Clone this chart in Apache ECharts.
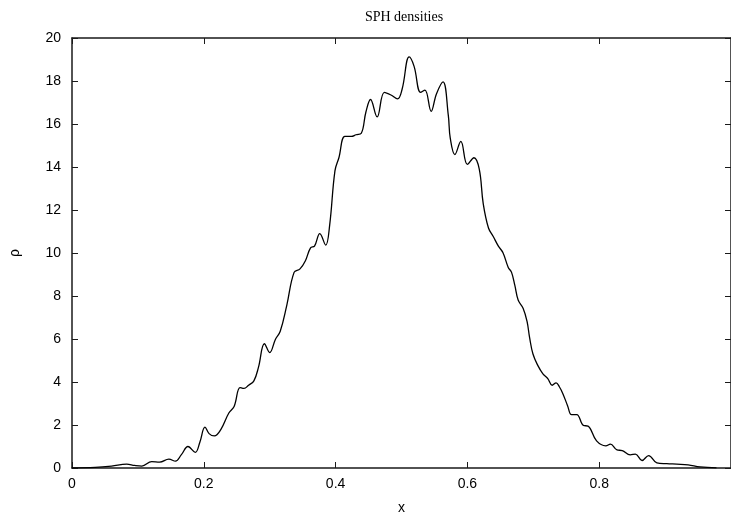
<!DOCTYPE html>
<html>
<head>
<meta charset="utf-8">
<script src="https://cdn.jsdelivr.net/npm/echarts@6/dist/echarts.min.js"></script>
<style>
html,body{margin:0;padding:0;background:#fff;}
#chart{width:731px;height:520px;}
</style>
</head>
<body>
<div id="chart"></div>
<script>
const titleText = 'SPH densities';
const xName = 'x';
const yName = 'ρ';
const xTickValues = [0, 0.2, 0.4, 0.6, 0.8];
const xTickLabels = ['0', '0.2', '0.4', '0.6', '0.8'];
const yTickValues = [0, 2, 4, 6, 8, 10, 12, 14, 16, 18, 20];

const xValues = [
  0, 0.035, 0.06, 0.083, 0.095, 0.106, 0.121, 0.133, 0.147, 0.157,
  0.166, 0.176, 0.187, 0.194, 0.2018, 0.208, 0.216, 0.226, 0.238, 0.246,
  0.255, 0.261, 0.268, 0.276, 0.283, 0.292, 0.300, 0.3086, 0.316, 0.326,
  0.337, 0.346, 0.354, 0.362, 0.368, 0.376, 0.385, 0.391, 0.399, 0.405,
  0.414, 0.424, 0.431, 0.439, 0.446, 0.453, 0.463, 0.474, 0.484, 0.494,
  0.501, 0.5116, 0.519, 0.529, 0.5356, 0.545, 0.553, 0.563, 0.571, 0.574,
  0.581, 0.590, 0.600, 0.610, 0.618, 0.624, 0.632, 0.639, 0.647, 0.654,
  0.662, 0.667, 0.672, 0.677, 0.6845, 0.6905, 0.6944, 0.6995, 0.707, 0.7146,
  0.722, 0.7286, 0.7346, 0.7395, 0.7447, 0.752, 0.758, 0.766, 0.776, 0.783,
  0.796, 0.810, 0.817, 0.827, 0.835, 0.847, 0.855, 0.865, 0.875, 0.8875,
  0.9025, 0.9176, 0.935, 0.953, 0.978
];
const rhoValues = [
  0.01, 0.03, 0.09, 0.18, 0.12, 0.09, 0.30, 0.27, 0.41, 0.32,
  0.62, 1.00, 0.73, 1.20, 1.90, 1.60, 1.49, 1.80, 2.56, 2.86,
  3.74, 3.70, 3.85, 4.05, 4.69, 5.78, 5.37, 5.98, 6.36, 7.58,
  9.10, 9.26, 9.63, 10.24, 10.32, 10.90, 10.37, 11.30, 13.82, 14.43,
  15.42, 15.42, 15.50, 15.57, 16.56, 17.14, 16.33, 17.47, 17.35, 17.17,
  17.63, 19.12, 18.69, 17.47, 17.58, 16.59, 17.40, 17.96, 16.41, 15.34,
  14.58, 15.19, 14.12, 14.43, 13.90, 12.30, 11.16, 10.78, 10.32, 10.01,
  9.33, 9.10, 8.49, 7.81, 7.43, 6.82, 6.06, 5.30, 4.76, 4.38,
  4.16, 3.85, 3.96, 3.78, 3.47, 2.90, 2.48, 2.48, 1.98, 1.95,
  1.26, 1.03, 1.11, 0.84, 0.81, 0.61, 0.65, 0.35, 0.58, 0.24,
  0.20, 0.18, 0.15, 0.05, 0.01
];

const seriesData = xValues.map((x, i) => [x, rhoValues[i]]);
const frameColor = '#1a1a1a';
const labelFont = {fontFamily: 'Liberation Sans, Arial, sans-serif', fontSize: 14, color: '#000'};

const chart = echarts.init(document.getElementById('chart'), null, {renderer: 'canvas'});
chart.setOption({
  animation: false,
  backgroundColor: '#fff',
  title: {
    text: titleText,
    left: 399, top: 5, textAlign: 'center',
    textStyle: {fontFamily: 'Liberation Serif, Times New Roman, serif', fontSize: 14, fontWeight: 'normal', color: '#000'}
  },
  grid: {left: 67, right: -1, top: 38, bottom: 44, containLabel: false},
  xAxis: [{
    type: 'value', min: 0, max: 1, interval: 0.2, position: 'bottom',
    name: xName, nameLocation: 'middle', nameGap: 33,
    nameTextStyle: labelFont,
    axisLine: {show: true, onZero: false, lineStyle: {color: frameColor, width: 1.5}},
    axisTick: {show: true, inside: true, length: 6, lineStyle: {color: frameColor, width: 1}},
    axisLabel: Object.assign({margin: 9, showMaxLabel: false,
      formatter: v => { const i = xTickValues.findIndex(t => Math.abs(t - v) < 1e-9); return i >= 0 ? xTickLabels[i] : ''; }}, labelFont),
    splitLine: {show: false}
  }, {
    type: 'value', min: 0, max: 1, interval: 0.2, position: 'top',
    axisLine: {show: true, onZero: false, lineStyle: {color: frameColor, width: 1.5}},
    axisTick: {show: true, inside: true, length: 6, lineStyle: {color: frameColor, width: 1}},
    axisLabel: {show: false}, splitLine: {show: false}
  }],
  yAxis: [{
    type: 'value', min: 0, max: 20, interval: 2, position: 'left',
    name: yName, nameLocation: 'middle', nameGap: 50, nameRotate: 90,
    nameTextStyle: labelFont,
    axisLine: {show: true, onZero: false, lineStyle: {color: frameColor, width: 1.5}},
    axisTick: {show: true, inside: true, length: 6, lineStyle: {color: frameColor, width: 1}},
    axisLabel: Object.assign({margin: 11, formatter: v => yTickValues.includes(v) ? String(v) : ''}, labelFont),
    splitLine: {show: false}
  }, {
    type: 'value', min: 0, max: 20, interval: 2, position: 'right',
    axisLine: {show: true, onZero: false, lineStyle: {color: frameColor, width: 1.5}},
    axisTick: {show: true, inside: true, length: 6, lineStyle: {color: frameColor, width: 1}},
    axisLabel: {show: false}, splitLine: {show: false}
  }],
  series: [{
    type: 'line',
    xAxisIndex: 0, yAxisIndex: 0,
    data: seriesData,
    smooth: 0.4,
    showSymbol: false,
    symbol: 'none',
    lineStyle: {color: '#000', width: 1.3},
    clip: true
  }]
});
</script>
</body>
</html>
